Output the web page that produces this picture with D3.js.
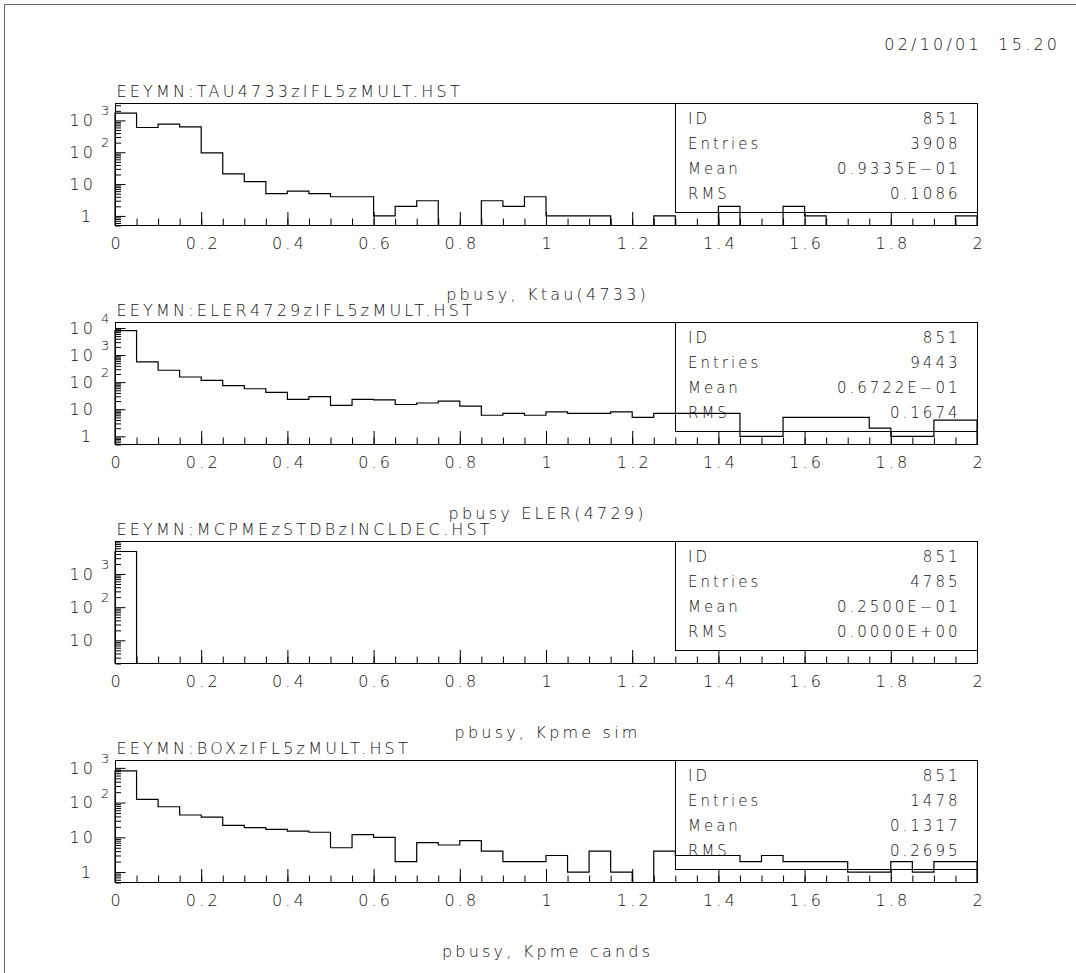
<!DOCTYPE html>
<html>
<head>
<meta charset="utf-8">
<script src="https://cdn.jsdelivr.net/npm/d3@7"></script>
<style>
  html, body { margin: 0; padding: 0; background: #fff; }
  svg text { font-family: "DejaVu Sans", sans-serif; font-weight: 200; fill: #111; }
</style>
</head>
<body>
<svg id="page" width="1076" height="973"></svg>
<script>
// ---- histogram identifiers and titles ----
const histIds = [
  "EEYMN:TAU4733zIFL5zMULT.HST",
  "EEYMN:ELER4729zIFL5zMULT.HST",
  "EEYMN:MCPMEzSTDBzINCLDEC.HST",
  "EEYMN:BOXzIFL5zMULT.HST"
];
const axisTitles = [
  "pbusy, Ktau(4733)",
  "pbusy ELER(4729)",
  "pbusy, Kpme sim",
  "pbusy, Kpme cands"
];
const dateStamp = "02/10/01  15.20";

// ---- bin contents, 40 bins of width 0.05 from 0 to 2 ----
const tau4733 = [1700, 600, 770, 630, 96, 21, 12, 5, 6, 5,
                 4, 4, 1, 2, 3, 0, 0, 3, 2, 4,
                 1, 1, 1, 0, 0, 1, 0, 0, 2, 0,
                 0, 2, 1, 0, 0, 0, 0, 0, 0, 1];
const eler4729 = [7950, 560, 275, 155, 117, 74, 57, 42, 23, 29,
                  14, 23, 22, 15, 17, 20, 13, 6, 7, 6,
                  8, 7, 7, 8, 5, 7, 7, 7, 7, 1,
                  1, 5, 5, 5, 5, 2, 1, 1, 4, 4];
const kpmeSim = [4785, 0, 0, 0, 0, 0, 0, 0, 0, 0,
                 0, 0, 0, 0, 0, 0, 0, 0, 0, 0,
                 0, 0, 0, 0, 0, 0, 0, 0, 0, 0,
                 0, 0, 0, 0, 0, 0, 0, 0, 0, 0];
const kpmeCands = [815, 124, 76, 44, 38, 22, 19, 17, 15, 14,
                   5, 12, 10, 2, 7, 6, 8, 4, 2, 2,
                   3, 1, 4, 1, 0, 4, 3, 3, 3, 2,
                   3, 2, 2, 2, 1, 1, 2, 1, 2, 2];

// ---- statistics boxes ----
const statId = [851, 851, 851, 851];
const statEntries = [3908, 9443, 4785, 1478];
const statMean = ["0.9335E\u221201", "0.6722E\u221201", "0.2500E\u221201", "0.1317"];
const statRms = ["0.1086", "0.1674", "0.0000E+00", "0.2695"];

// ---- axes ----
const xRange = [0, 2];
const binWidth = 0.05;
const xTickValues = [0, 0.2, 0.4, 0.6, 0.8, 1, 1.2, 1.4, 1.6, 1.8, 2];
const xTickLabels = ["0", "0.2", "0.4", "0.6", "0.8", "1", "1.2", "1.4", "1.6", "1.8", "2"];
const yFloor = [0.5, 0.5, 2, 0.5];

const contents = [tau4733, eler4729, kpmeSim, kpmeCands];

// ---- layout ----
const W = 1076, H = 973;
const frameL = 115, frameR = 977;
const firstTop = 103.5, pitch = 219, frameH = 122;
const statLeftValue = 1.3, statH = 109;
const LS = 3.2;           // letter spacing of the wide plotter font
const FS = 16;

const svg = d3.select("#page");

// page outline (top and left edges)
svg.append("path")
  .attr("d", `M4.5,${H}V4.5H${W}`)
  .attr("fill", "none").attr("stroke", "#666").attr("stroke-width", 1);

svg.append("text")
  .attr("x", 1057 + LS).attr("y", 50)
  .attr("text-anchor", "end")
  .attr("font-size", FS).attr("letter-spacing", LS)
  .style("white-space", "pre")
  .text(dateStamp);

const x = d3.scaleLinear().domain(xRange).range([frameL, frameR]);
const binEdges = d3.range(contents[0].length + 1).map(k => xRange[0] + k * binWidth);

contents.forEach((vals, i) => {
  const top = firstTop + i * pitch;
  const bot = top + frameH;
  const y = d3.scaleLog().domain([yFloor[i], 2 * d3.max(vals)]).range([bot, top]);
  const g = svg.append("g");

  // x ticks: minor at every bin edge, major with labels
  g.append("g").attr("transform", `translate(0,${bot - 0.5})`)
    .call(d3.axisBottom(x).tickValues(binEdges).tickSize(-6.5).tickFormat(""))
    .call(a => a.select(".domain").remove())
    .attr("color", "#000");
  g.append("g").attr("transform", `translate(0,${bot - 0.5})`)
    .call(d3.axisBottom(x).tickValues(xTickValues).tickSize(-13).tickPadding(13)
      .tickFormat((d, k) => xTickLabels[k]))
    .call(a => a.select(".domain").remove())
    .attr("color", "#000")
    .attr("font-family", '"DejaVu Sans", sans-serif')
    .attr("font-size", FS)
    .selectAll("text").attr("letter-spacing", LS).attr("dx", LS / 2);

  // y ticks on a log scale
  const [lo, hi] = y.domain();
  const kLo = Math.floor(Math.log10(lo)), kHi = Math.ceil(Math.log10(hi));
  const decades = [], minors = [];
  for (let k = kLo; k <= kHi; k++) {
    for (let m = 1; m <= 9; m++) {
      const v = m * Math.pow(10, k);
      if (v < lo || v > hi) continue;
      (m === 1 ? decades : minors).push(v);
    }
  }
  g.append("g").attr("transform", `translate(${frameL + 0.5},0)`)
    .call(d3.axisLeft(y).tickValues(minors).tickSize(-5.5).tickFormat(""))
    .call(a => a.select(".domain").remove())
    .attr("color", "#000");
  g.append("g").attr("transform", `translate(${frameL + 0.5},0)`)
    .call(d3.axisLeft(y).tickValues(decades).tickSize(-10).tickFormat(""))
    .call(a => a.select(".domain").remove())
    .attr("color", "#000");

  // y labels: 1, 10, 10^k
  decades.forEach(v => {
    const k = Math.round(Math.log10(v));
    const cy = y(v);
    g.append("text")
      .attr("x", (k === 0 ? 91 : 93) + LS).attr("y", cy + 5.8)
      .attr("text-anchor", "end")
      .attr("font-size", FS).attr("letter-spacing", LS)
      .text(k === 0 ? "1" : "10");
    if (k >= 2) {
      g.append("text")
        .attr("x", 101).attr("y", cy - 5)
        .attr("font-size", 13)
        .text(String(k));
    }
  });

  // statistics box
  const bx = Math.round(x(statLeftValue)) + 0.5;
  g.append("rect")
    .attr("x", bx).attr("y", top)
    .attr("width", frameR + 0.5 - bx).attr("height", statH)
    .attr("fill", "none").attr("stroke", "#000").attr("stroke-width", 1);
  const rows = [
    ["ID", String(statId[i])],
    ["Entries", String(statEntries[i])],
    ["Mean", statMean[i]],
    ["RMS", statRms[i]]
  ];
  rows.forEach((r, j) => {
    const by = top + 20.5 + j * 25;
    g.append("text").attr("x", bx + 12.5).attr("y", by)
      .attr("font-size", 15).attr("letter-spacing", 3).text(r[0]);
    g.append("text").attr("x", frameR - 19.5 + 3).attr("y", by)
      .attr("text-anchor", "end")
      .attr("font-size", 15).attr("letter-spacing", 3).text(r[1]);
  });

  // histogram outline
  const yOf = v => (v > 0 ? y(v) : bot);
  const pts = [[binEdges[0], null]];
  vals.forEach((v, k) => pts.push([binEdges[k], v]));
  pts.push([binEdges[vals.length], vals[vals.length - 1]]);
  pts.push([binEdges[vals.length], null]);
  const line = d3.line()
    .x(d => x(d[0]))
    .y(d => (d[1] === null ? bot : yOf(d[1])))
    .curve(d3.curveStepAfter);
  g.append("path").attr("d", line(pts))
    .attr("fill", "none").attr("stroke", "#000").attr("stroke-width", 1.2);

  // frame
  g.append("rect")
    .attr("x", frameL + 0.5).attr("y", top)
    .attr("width", frameR - frameL).attr("height", frameH)
    .attr("fill", "none").attr("stroke", "#000").attr("stroke-width", 1);

  // histogram file name above the frame
  g.append("text")
    .attr("x", frameL + 1.5).attr("y", top - 6.5)
    .attr("font-size", FS).attr("letter-spacing", LS)
    .text(histIds[i]);

  // histogram title below the axis
  g.append("text")
    .attr("x", (frameL + frameR) / 2 + LS / 2).attr("y", bot + 74)
    .attr("text-anchor", "middle")
    .attr("font-size", FS).attr("letter-spacing", LS)
    .text(axisTitles[i]);
});
</script>
</body>
</html>
